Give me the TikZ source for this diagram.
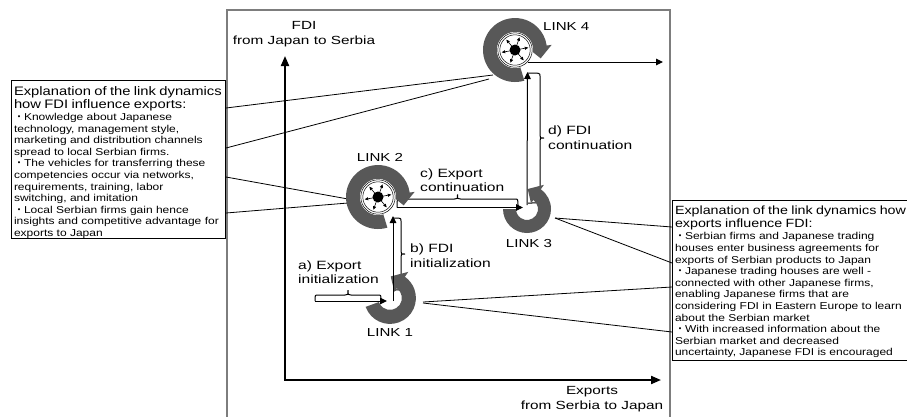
\documentclass[tikz,border=0pt]{standalone}
\usepackage{fontspec}
\setmainfont{Liberation Sans}[FakeStretch=1.3]
\newfontfamily\notefont{Liberation Sans}[FakeStretch=1.2]
\newfontfamily\cjkfont{Noto Sans CJK JP}
\usetikzlibrary{arrows.meta,calc}

\definecolor{ringgray}{RGB}{88,88,88}
\definecolor{framegray}{RGB}{125,125,125}
\newcommand{\bulletmark}{{\cjkfont ・}}

\tikzset{
  frameline/.style={draw=framegray, line width=1.3pt},
  axisline/.style={line width=2pt,
    {Triangle[length=10pt,width=8pt]}-{Triangle[length=10pt,width=8pt]}},
  flow/.style={line width=1pt, -{Triangle[length=7pt,width=6.5pt]}},
  leader/.style={line width=0.8pt},
  bracearm/.style={line width=1pt},
  linklabel/.style={font=\fontsize{11.6}{13}\selectfont, inner sep=0pt},
  steplabel/.style={font=\fontsize{12}{14.5}\selectfont, align=left,
    anchor=west, inner sep=0pt},
  axislabel/.style={font=\fontsize{11.8}{15.5}\selectfont, align=center,
    inner sep=0pt},
  notebox/.style={draw, line width=1pt, anchor=north west, align=left,
    font=\notefont\fontsize{10}{11.6}\selectfont, inner xsep=2.5pt,
    inner ysep=0pt},
  % ring with a hub: clockwise arrow, opening at the lower right
  pics/hubring/.style={code={
    \fill[ringgray] (287:32) arc[start angle=287, end angle=8, radius=32]
      -- (8:37) -- (-18:27) -- (8:13) -- (8:18)
      arc[start angle=8, end angle=287, radius=18] -- cycle;
    \fill[white] (0,0) circle (18);
    \draw[line width=0.5pt] (0,0) circle (17.2) (0,0) circle (15.2);
    \fill (0,0) circle (5.5);
    \foreach \a in {10,70,...,310}
      \draw[line width=0.6pt, -{Triangle[length=3.5pt,width=3pt]}]
        (\a:5) -- (\a:13.5);
  }},
  % open ring: anticlockwise arrow from the given start angle, opening at the upper left
  pics/openring/.style={code={
    \fill[ringgray] (#1:24) arc[start angle=#1, end angle=415, radius=24]
      -- (55:29.5) -- (88:20) -- (55:7) -- (55:11)
      arc[start angle=415, end angle=#1, radius=11] -- cycle;
  }},
  % brace beside a flow: length / arm offset / tip offset
  pics/bracket/.style args={#1/#2/#3}{code={
    \draw[bracearm] (0,0) .. controls (0,#2) .. (3,#2) -- ({#1/2-3},#2)
      .. controls ({#1/2},#2) .. ({#1/2},#3)
      .. controls ({#1/2},#2) .. ({#1/2+3},#2) -- ({#1-3},#2)
      .. controls (#1,#2) .. (#1,0);
  }},
}
\newcommand{\lefttitle}{\fontsize{12.3}{11.6}\selectfont}
\newcommand{\righttitle}{\fontsize{11.9}{11.6}\selectfont}

\begin{document}
\begin{tikzpicture}[x=1pt,y=1pt]
\useasboundingbox (0,0) rectangle (907,-416);

% frame
\draw[frameline] (227,-420) -- (227,-10) -- (670,-10) -- (670,-420);

% axes
\coordinate (origin) at (285,-380);
\coordinate (ytip) at (285,-56);
\coordinate (xtip) at (661,-380);
\draw[axisline] (ytip) -- (origin) -- (xtip);
\node[axislabel] (ylabel) at (304,-34) {FDI\\from Japan to Serbia};
\node[axislabel] (xlabel) at (592,-399) {Exports\\from Serbia to Japan};

% link positions
\coordinate (link1) at (390,-298);
\coordinate (link2) at (378,-197);
\coordinate (link3) at (527,-209);
\coordinate (link4) at (515,-50);

% explanation boxes
\node[notebox, text width=209pt] (leftbox) at (11,-80) {%
\rule{0pt}{14.5pt}{\lefttitle Explanation of the link dynamics\\[1.9pt]
how FDI influence exports:}\\[0.4pt]
\bulletmark Knowledge about Japanese\\
technology, management style,\\
marketing and distribution channels\\
spread to local Serbian firms.\\
\bulletmark The vehicles for transferring these\\
competencies occur via networks,\\
requirements, training, labor\\
switching, and imitation\\
\bulletmark Local Serbian firms gain hence\\
insights and competitive advantage for\\
exports to Japan\rule[-2pt]{0pt}{0pt}};

\node[notebox, text width=250pt] (rightbox) at (672,-200) {%
\rule{0pt}{13.6pt}{\righttitle Explanation of the link dynamics how\\[1.9pt]
exports influence FDI:}\\[0.6pt]
\bulletmark Serbian firms and Japanese trading\\
houses enter business agreements for\\
exports of Serbian products to Japan\\
\bulletmark Japanese trading houses are well -\\
connected with other Japanese firms,\\
enabling Japanese firms that are\\
considering FDI in Eastern Europe to learn\\
about the Serbian market\\
\bulletmark With increased information about the\\
Serbian market and decreased\\
uncertainty, Japanese FDI is encouraged\rule[-5pt]{0pt}{0pt}};

% leaders from the boxes to the links
\draw[leader] ($(leftbox.north east)+(0,-28)$) -- ($(link4)+(-22,-25)$);
\draw[leader] ($(leftbox.north east)+(0,-68)$) -- ($(link4)+(-26,-29)$);
\draw[leader] ($(leftbox.north east)+(0,-97)$) -- ($(link2)+(-30,-2)$);
\draw[leader] ($(leftbox.north east)+(0,-133)$) -- ($(link2)+(-30,-6)$);
\draw[leader] ($(rightbox.north west)+(0,-27)$) -- ($(link3)+(28,-9)$);
\draw[leader] ($(rightbox.north west)+(0,-63)$) -- ($(link3)+(28,-9)$);
\draw[leader] ($(rightbox.north west)+(0,-87)$) -- ($(link1)+(33,-4)$);
\draw[leader] ($(rightbox.north west)+(0,-132)$) -- ($(link1)+(33,-5)$);

% braces beside the flows
\coordinate (astart) at (315,-301);
\pic at (astart) {bracket=66/6/11};
\pic at ($(link2)+(19,-10.5)$) {bracket=121/8.5/13};
\pic[rotate=-90] at ($(link2)+(15,-21)$) {bracket=72/8/12};
\pic[rotate=-90] at ($(link4)+(13,-23)$) {bracket=130/12/16};

% rings
\pic[scale=1.08] at (link1) {openring=200};
\pic at (link3) {openring=180};
\pic at (link2) {hubring};
\pic at (link4) {hubring};

% flows
\coordinate (out4) at (663,-62);
\draw[flow] (astart) -- ($(link1)+(-3,-3)$);
\draw[flow] ($(link1)+(3,-3)$) -- ($(link2)+(15,-19)$);
\draw[flow] ($(link2)+(19,-10.5)$) -- ($(link3)+(-4,1.5)$);
\draw[flow] ($(link3)+(0,4)$) -- ($(link4)+(12.5,-22)$);
\draw[flow] ($(link4)+(13.4,-12)$) -- (out4);

% labels
\node[linklabel] (l1) at (390,-333) {LINK 1};
\node[linklabel] (l2) at (380,-157.5) {LINK 2};
\node[linklabel] (l3) at (529,-243) {LINK 3};
\node[linklabel, anchor=west] (l4) at (543,-27) {LINK 4};
\node[steplabel] (sa) at (298,-272) {a) Export\\initialization};
\node[steplabel] (sb) at (410,-255.5) {b) FDI\\initialization};
\node[steplabel] (sc) at (420,-180) {c) Export\\continuation};
\node[steplabel] (sd) at (548,-137.5) {d) FDI\\continuation};
\end{tikzpicture}
\end{document}
